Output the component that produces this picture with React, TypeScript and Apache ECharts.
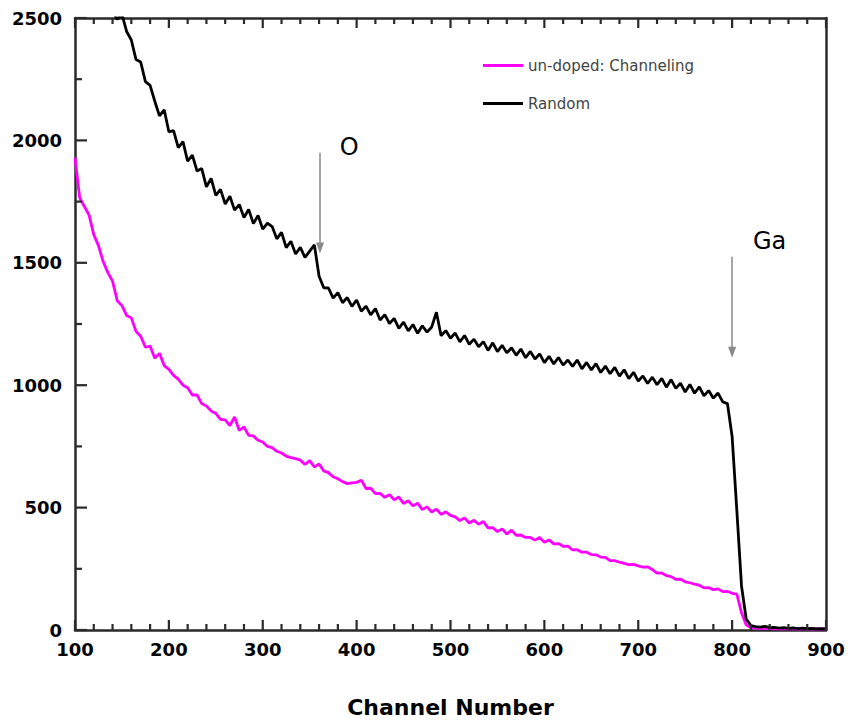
import { useEffect, useRef } from "react";
import * as echarts from "echarts";

// Channels run from 100 to 900 in steps of 5.
const CHANNEL_START = 100;
const CHANNEL_STEP = 5;

// Backscattering yield, channeling geometry (un-doped sample)
const channelingCounts = [
  1930, 1765, 1730, 1695, 1615, 1570, 1505, 1460, 1425, 1345,
  1325, 1285, 1275, 1220, 1200, 1155, 1160, 1110, 1130, 1080,
  1065, 1040, 1025, 1000, 990, 960, 960, 925, 915, 895,
  885, 860, 858, 835, 870, 815, 830, 795, 793, 775,
  768, 750, 745, 730, 723, 710, 704, 700, 694, 676,
  692, 666, 678, 650, 643, 626, 618, 606, 598, 601,
  603, 612, 578, 579, 557, 558, 542, 553, 532, 543,
  517, 528, 507, 518, 492, 503, 482, 494, 472, 483,
  468, 462, 447, 458, 437, 448, 432, 443, 417, 418,
  402, 413, 392, 408, 387, 388, 378, 378, 367, 378,
  358, 368, 352, 353, 342, 343, 327, 328, 318, 318,
  308, 307, 298, 297, 283, 283, 277, 272, 267, 268,
  262, 257, 258, 247, 232, 233, 222, 218, 207, 208,
  197, 193, 187, 183, 172, 173, 165, 168, 157, 158,
  150, 147, 70, 20, 10, 8, 7, 6, 7, 5,
  6, 5, 5, 6, 4, 5, 5, 4, 5, 4,
  4,
];

// Backscattering yield, random geometry
const randomCounts = [
  3150, 3060, 2980, 2900, 2820, 2750, 2680, 2600, 2530, 2495,
  2515, 2445, 2410, 2330, 2320, 2240, 2225, 2160, 2100, 2125,
  2035, 2040, 1970, 1995, 1915, 1940, 1875, 1885, 1810, 1845,
  1775, 1800, 1740, 1772, 1715, 1738, 1685, 1718, 1660, 1693,
  1638, 1662, 1648, 1598, 1624, 1562, 1588, 1536, 1563, 1522,
  1548, 1573, 1445, 1398, 1397, 1356, 1378, 1337, 1358, 1322,
  1348, 1302, 1323, 1287, 1313, 1266, 1288, 1252, 1273, 1232,
  1258, 1222, 1248, 1212, 1243, 1217, 1238, 1298, 1202, 1223,
  1192, 1213, 1177, 1203, 1167, 1188, 1157, 1178, 1142, 1173,
  1137, 1163, 1132, 1153, 1122, 1148, 1112, 1138, 1107, 1128,
  1092, 1118, 1087, 1113, 1082, 1103, 1077, 1103, 1067, 1093,
  1062, 1088, 1052, 1078, 1047, 1073, 1037, 1063, 1027, 1053,
  1017, 1038, 1007, 1033, 1002, 1028, 992, 1023, 987, 1008,
  972, 1003, 967, 993, 957, 978, 947, 968, 932, 925,
  790, 490, 180, 45, 18, 14, 12, 15, 10, 11,
  8, 10, 7, 9, 6, 8, 6, 7, 5, 6,
  5,
];

// Axis ticks
const xMajorTicks = [100, 200, 300, 400, 500, 600, 700, 800, 900];
const xMinorTicks = [
  120, 140, 160, 180, 220, 240, 260, 280, 320, 340, 360, 380, 420, 440, 460, 480,
  520, 540, 560, 580, 620, 640, 660, 680, 720, 740, 760, 780, 820, 840, 860, 880,
];
const yMajorTicks = [0, 500, 1000, 1500, 2000, 2500];
const yMinorTicks = [250, 750, 1250, 1750, 2250];

// Surface edges marked with arrows: [channel, arrow top count, arrow tip count]
const oxygenEdge = [361, 1950, 1560];
const galliumEdge = [800, 1525, 1135];
// Element labels: [name, channel, count]
const edgeLabels: [string, number, number][] = [
  ["O", 392, 1972],
  ["Ga", 840, 1589],
];

const X_MIN = 100;
const X_MAX = 900;
const Y_MIN = 0;
const Y_MAX = 2500;

const FONT = "DejaVu Sans";
const FRAME = "#2a2a2a";

function frameAxis(extra: Record<string, any>) {
  return {
    type: "value",
    axisLine: { show: true, onZero: false, lineStyle: { color: FRAME, width: 2.5 } },
    axisTick: { show: false },
    splitLine: { show: false },
    ...extra,
  };
}

export default function App() {
  const ref = useRef<HTMLDivElement>(null);

  useEffect(() => {
    const chart = echarts.init(ref.current!, null, { renderer: "svg" });
    const toPairs = (vals: number[]) =>
      vals.map((v, i) => [CHANNEL_START + i * CHANNEL_STEP, v]);

    chart.setOption({
      animation: false,
      backgroundColor: "#fff",
      grid: { left: 75, right: 22, top: 18, bottom: 90 },
      legend: {
        orient: "vertical",
        left: 483,
        top: 58,
        padding: 0,
        itemWidth: 40,
        itemHeight: 3,
        itemGap: 23,
        icon: "rect",
        textStyle: { fontFamily: FONT, fontSize: 15, color: "#444", lineHeight: 15 },
        data: ["un-doped: Channeling", "Random"],
      },
      xAxis: [
        frameAxis({
          min: X_MIN,
          max: X_MAX,
          interval: 100,
          position: "bottom",
          axisLabel: { show: true, fontFamily: FONT, fontWeight: "bold", fontSize: 18, color: "#000", margin: 10 },
          name: "Channel Number",
          nameLocation: "middle",
          nameGap: 66,
          nameTextStyle: { fontFamily: FONT, fontWeight: "bold", fontSize: 22, color: "#000" },
        }),
        frameAxis({
          min: X_MIN,
          max: X_MAX,
          interval: 100,
          position: "top",
          axisLabel: { show: false },
        }),
      ],
      yAxis: [
        frameAxis({
          min: Y_MIN,
          max: Y_MAX,
          interval: 500,
          position: "left",
          axisLabel: {
            show: true,
            fontFamily: FONT,
            fontWeight: "bold",
            fontSize: 18,
            color: "#000",
            margin: 13,
            formatter: (v: number) => String(v),
          },
        }),
        frameAxis({
          min: Y_MIN,
          max: Y_MAX,
          interval: 500,
          position: "right",
          axisLabel: { show: false },
        }),
      ],
      series: [
        {
          name: "un-doped: Channeling",
          type: "line",
          data: toPairs(channelingCounts),
          symbol: "none",
          lineStyle: { color: "#ff00ff", width: 2.8 },
          itemStyle: { color: "#ff00ff" },
        },
        {
          name: "Random",
          type: "line",
          data: toPairs(randomCounts),
          symbol: "none",
          lineStyle: { color: "#000", width: 2.8 },
          itemStyle: { color: "#000" },
          markLine: {
            silent: true,
            symbol: ["none", "triangle"],
            symbolSize: [8, 11],
            lineStyle: { color: "#8a8a8a", width: 1.5, type: "solid" },
            label: { show: false },
            data: [oxygenEdge, galliumEdge].map(([ch, top, tip]) => [
              { coord: [ch, top] },
              { coord: [ch, tip] },
            ]),
          },
          markPoint: {
            silent: true,
            symbol: "circle",
            symbolSize: 1,
            itemStyle: { color: "rgba(0,0,0,0)" },
            label: {
              show: true,
              position: "inside",
              fontFamily: FONT,
              fontSize: 24,
              color: "#000",
              formatter: (p: any) => p.name,
            },
            data: edgeLabels.map(([name, ch, v]) => ({ name, coord: [ch, v] })),
          },
        },
      ],
    });

    // Inward tick marks on the bottom, top and left edges of the frame,
    // drawn as thin filled bars placed through the grid's coordinate conversion.
    const px = (x: number, y: number) =>
      chart.convertToPixel({ gridIndex: 0 }, [x, y]) as number[];
    const W = 2.2;
    const bar = (x: number, y: number, width: number, height: number) => ({
      type: "rect",
      silent: true,
      z: 100,
      shape: { x, y, width, height },
      style: { fill: FRAME },
    });
    const elements: any[] = [];
    const addX = (ticks: number[], len: number) =>
      ticks.forEach((t) => {
        const [x, yb] = px(t, Y_MIN);
        const [, yt] = px(t, Y_MAX);
        elements.push(bar(x - W / 2, yb - len, W, len), bar(x - W / 2, yt, W, len));
      });
    const addY = (ticks: number[], len: number) =>
      ticks.forEach((t) => {
        const [x, y] = px(X_MIN, t);
        elements.push(bar(x, y - W / 2, len, W));
      });
    addX(xMajorTicks, 10);
    addX(xMinorTicks, 6);
    addY(yMajorTicks, 12);
    addY(yMinorTicks, 7);
    chart.setOption({ graphic: elements });

    return () => chart.dispose();
  }, []);

  return (
    <div
      ref={ref}
      style={{ position: "fixed", left: 0, top: 0, width: 848, height: 723, background: "#fff" }}
    />
  );
}
